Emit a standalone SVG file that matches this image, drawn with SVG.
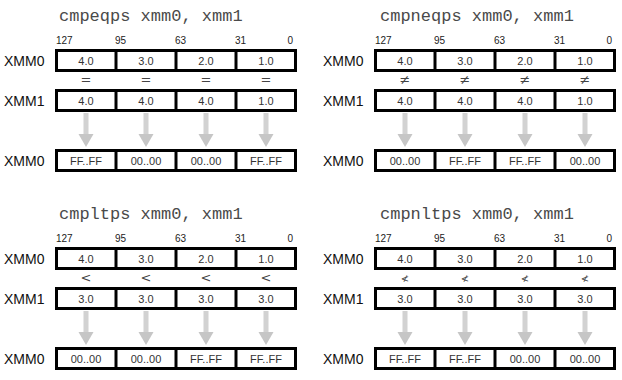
<svg xmlns="http://www.w3.org/2000/svg" width="622" height="380" viewBox="0 0 622 380">
<style>
.title{font-family:"Liberation Mono","DejaVu Sans Mono",monospace;font-size:17px;fill:#4a4a4a}
.bit{font-family:"Liberation Sans",Arial,sans-serif;font-size:10px;fill:#222}
.reg{font-family:"Liberation Sans",Arial,sans-serif;font-size:14px;fill:#111}
.val{font-family:"Liberation Sans",Arial,sans-serif;font-size:11px;fill:#333;text-anchor:middle}
.op{font-family:"DejaVu Sans","Liberation Sans",sans-serif;font-size:13px;fill:#444;text-anchor:middle}
.box{fill:#fff;stroke:#000;stroke-width:3}
.div{stroke:#000;stroke-width:3}
.shaft{fill:#d2d2d2}
.head{fill:#c6c6c6}
</style>
<defs>
<g id="rowframe">
<rect class="box" x="56.5" y="0" width="239" height="20"/>
<line class="div" x1="116" y1="0" x2="116" y2="20"/>
<line class="div" x1="176" y1="0" x2="176" y2="20"/>
<line class="div" x1="236" y1="0" x2="236" y2="20"/>
</g>
<g id="bits">
<text class="bit" x="56" y="44">127</text>
<text class="bit" x="115" y="44">95</text>
<text class="bit" x="175" y="44">63</text>
<text class="bit" x="235" y="44">31</text>
<text class="bit" x="293" y="44" text-anchor="end">0</text>
</g>
<g id="arrow">
<rect class="shaft" x="-2.5" y="113" width="5" height="22"/>
<polygon class="head" points="-7.5,134 7.5,134 0,147"/>
</g>
</defs>

<!-- Panel 1: cmpeqps -->
<g id="panel-cmpeqps">
<text class="title" x="59" y="21">cmpeqps xmm0, xmm1</text>
<use href="#bits"/>
<g id="p1-xmm0">
<text class="reg" x="4" y="66">XMM0</text>
<use href="#rowframe" y="50.5"/>
<text class="val" x="86" y="64.5">4.0</text><text class="val" x="146" y="64.5">3.0</text><text class="val" x="206" y="64.5">2.0</text><text class="val" x="266" y="64.5">1.0</text>
</g>
<g id="p1-ops">
<text class="op" x="86" y="84">=</text><text class="op" x="146" y="84">=</text><text class="op" x="206" y="84">=</text><text class="op" x="266" y="84">=</text>
</g>
<g id="p1-xmm1">
<text class="reg" x="4" y="106">XMM1</text>
<use href="#rowframe" y="90.5"/>
<text class="val" x="86" y="104.5">4.0</text><text class="val" x="146" y="104.5">4.0</text><text class="val" x="206" y="104.5">4.0</text><text class="val" x="266" y="104.5">1.0</text>
</g>
<g id="p1-result">
<text class="reg" x="4" y="166">XMM0</text>
<use href="#rowframe" y="150.5"/>
<text class="val" x="86" y="164.5">FF..FF</text><text class="val" x="146" y="164.5">00..00</text><text class="val" x="206" y="164.5">00..00</text><text class="val" x="266" y="164.5">FF..FF</text>
</g>
<g id="p1-connectors">
<use href="#arrow" x="86"/><use href="#arrow" x="146"/><use href="#arrow" x="206"/><use href="#arrow" x="266"/>
</g>
</g>

<!-- Panel 2: cmpneqps -->
<g id="panel-cmpneqps" transform="translate(319,0)">
<text class="title" x="61" y="21">cmpneqps xmm0, xmm1</text>
<use href="#bits"/>
<g id="p2-xmm0">
<text class="reg" x="4" y="66">XMM0</text>
<use href="#rowframe" y="50.5"/>
<text class="val" x="86" y="64.5">4.0</text><text class="val" x="146" y="64.5">3.0</text><text class="val" x="206" y="64.5">2.0</text><text class="val" x="266" y="64.5">1.0</text>
</g>
<g id="p2-ops">
<text class="op" x="86" y="84">≠</text><text class="op" x="146" y="84">≠</text><text class="op" x="206" y="84">≠</text><text class="op" x="266" y="84">≠</text>
</g>
<g id="p2-xmm1">
<text class="reg" x="4" y="106">XMM1</text>
<use href="#rowframe" y="90.5"/>
<text class="val" x="86" y="104.5">4.0</text><text class="val" x="146" y="104.5">4.0</text><text class="val" x="206" y="104.5">4.0</text><text class="val" x="266" y="104.5">1.0</text>
</g>
<g id="p2-result">
<text class="reg" x="4" y="166">XMM0</text>
<use href="#rowframe" y="150.5"/>
<text class="val" x="86" y="164.5">00..00</text><text class="val" x="146" y="164.5">FF..FF</text><text class="val" x="206" y="164.5">FF..FF</text><text class="val" x="266" y="164.5">00..00</text>
</g>
<g id="p2-connectors">
<use href="#arrow" x="86"/><use href="#arrow" x="146"/><use href="#arrow" x="206"/><use href="#arrow" x="266"/>
</g>
</g>

<!-- Panel 3: cmpltps -->
<g id="panel-cmpltps" transform="translate(0,198)">
<text class="title" x="59" y="21">cmpltps xmm0, xmm1</text>
<use href="#bits"/>
<g id="p3-xmm0">
<text class="reg" x="4" y="66">XMM0</text>
<use href="#rowframe" y="50.5"/>
<text class="val" x="86" y="64.5">4.0</text><text class="val" x="146" y="64.5">3.0</text><text class="val" x="206" y="64.5">2.0</text><text class="val" x="266" y="64.5">1.0</text>
</g>
<g id="p3-ops">
<text class="op" x="86" y="84">&lt;</text><text class="op" x="146" y="84">&lt;</text><text class="op" x="206" y="84">&lt;</text><text class="op" x="266" y="84">&lt;</text>
</g>
<g id="p3-xmm1">
<text class="reg" x="4" y="106">XMM1</text>
<use href="#rowframe" y="90.5"/>
<text class="val" x="86" y="104.5">3.0</text><text class="val" x="146" y="104.5">3.0</text><text class="val" x="206" y="104.5">3.0</text><text class="val" x="266" y="104.5">3.0</text>
</g>
<g id="p3-result">
<text class="reg" x="4" y="166">XMM0</text>
<use href="#rowframe" y="150.5"/>
<text class="val" x="86" y="164.5">00..00</text><text class="val" x="146" y="164.5">00..00</text><text class="val" x="206" y="164.5">FF..FF</text><text class="val" x="266" y="164.5">FF..FF</text>
</g>
<g id="p3-connectors">
<use href="#arrow" x="86"/><use href="#arrow" x="146"/><use href="#arrow" x="206"/><use href="#arrow" x="266"/>
</g>
</g>

<!-- Panel 4: cmpnltps -->
<g id="panel-cmpnltps" transform="translate(319,198)">
<text class="title" x="61" y="21">cmpnltps xmm0, xmm1</text>
<use href="#bits"/>
<g id="p4-xmm0">
<text class="reg" x="4" y="66">XMM0</text>
<use href="#rowframe" y="50.5"/>
<text class="val" x="86" y="64.5">4.0</text><text class="val" x="146" y="64.5">3.0</text><text class="val" x="206" y="64.5">2.0</text><text class="val" x="266" y="64.5">1.0</text>
</g>
<g id="p4-ops">
<text class="op" x="86" y="84" style="font-size:10px">≮</text><text class="op" x="146" y="84" style="font-size:10px">≮</text><text class="op" x="206" y="84" style="font-size:10px">≮</text><text class="op" x="266" y="84" style="font-size:10px">≮</text>
</g>
<g id="p4-xmm1">
<text class="reg" x="4" y="106">XMM1</text>
<use href="#rowframe" y="90.5"/>
<text class="val" x="86" y="104.5">3.0</text><text class="val" x="146" y="104.5">3.0</text><text class="val" x="206" y="104.5">3.0</text><text class="val" x="266" y="104.5">3.0</text>
</g>
<g id="p4-result">
<text class="reg" x="4" y="166">XMM0</text>
<use href="#rowframe" y="150.5"/>
<text class="val" x="86" y="164.5">FF..FF</text><text class="val" x="146" y="164.5">FF..FF</text><text class="val" x="206" y="164.5">00..00</text><text class="val" x="266" y="164.5">00..00</text>
</g>
<g id="p4-connectors">
<use href="#arrow" x="86"/><use href="#arrow" x="146"/><use href="#arrow" x="206"/><use href="#arrow" x="266"/>
</g>
</g>
</svg>
